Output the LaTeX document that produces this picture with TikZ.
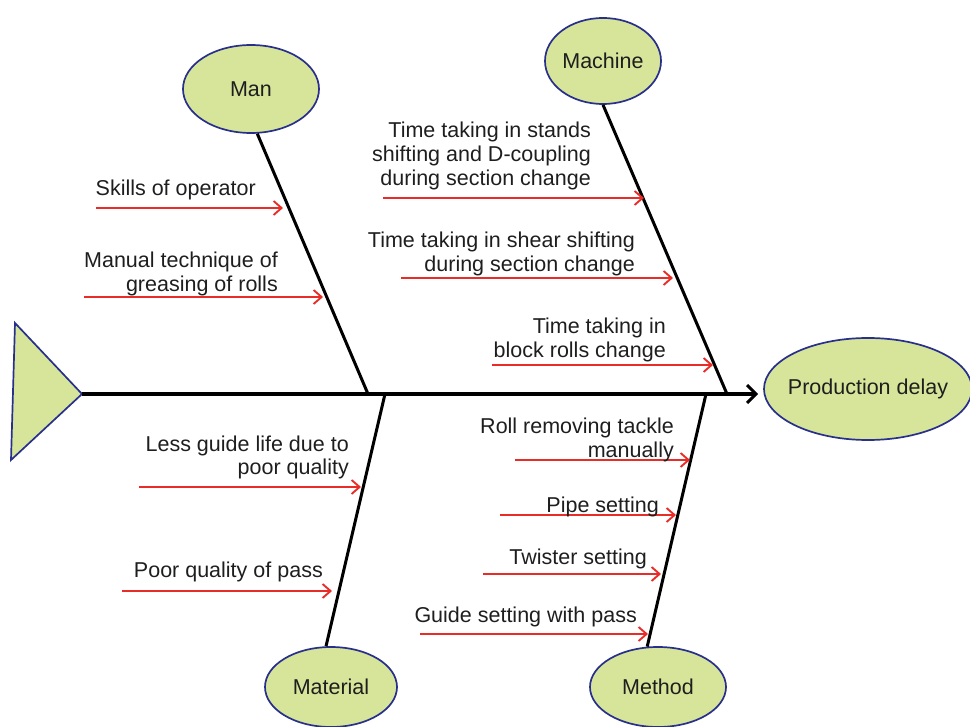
\documentclass[tikz,border=0pt]{standalone}
\usepackage{fontspec}
\setmainfont{Liberation Sans}
\usetikzlibrary{shapes.geometric,arrows.meta,calc}
\definecolor{fishfill}{RGB}{215,229,155}
\definecolor{fishedge}{RGB}{40,48,140}
\definecolor{causered}{RGB}{232,45,40}
\definecolor{inktext}{RGB}{30,30,30}
\begin{document}
\begin{tikzpicture}[x=1pt,y=-1pt,
  category/.style={ellipse, draw=fishedge, line width=1.7pt, fill=fishfill,
    inner sep=0pt, font=\fontsize{21.5}{24}\selectfont, text=inktext},
  bone/.style={line width=3pt, black},
  spine/.style={line width=3.5pt, black, line cap=butt,
    -{Straight Barb[length=9pt,width=18pt,line width=3pt]}, shorten >=5pt},
  cause/.style={draw=causered, line width=1.9pt,
    -{Straight Barb[length=8pt,width=14pt,line width=1.9pt]}},
  causetext/.style={anchor=base east, align=right, inner sep=0pt,
    font=\fontsize{21.5}{24}\selectfont, text=inktext},
]
\useasboundingbox (0,0) rectangle (970,727);

% category heads and the effect
\node[category, minimum width=136pt, minimum height=88pt] (man) at (251,89) {Man};
\node[category, minimum width=116pt, minimum height=86pt, inner xsep=-6pt] (machine) at (603,61) {Machine};
\node[category, minimum width=208pt, minimum height=102pt, inner xsep=-20pt] (delay) at (868,389) {Production delay};
\node[category, minimum width=132pt, minimum height=80pt] (material) at (331,687) {Material};
\node[category, minimum width=136pt, minimum height=80pt] (method) at (658,687) {Method};

% fish tail
\coordinate (tailtop) at (15,323);
\coordinate (tailtip) at (82,394);
\coordinate (tailbot) at (11,460);
\draw[fill=fishfill, draw=fishedge, line width=1.7pt, line join=miter]
  (tailtop) -- (tailtip) -- (tailbot) -- cycle;

% backbone
\draw[spine] (tailtip) -- (tailtip -| delay.west);

% junctions of the bones on the backbone
\coordinate (jman) at (368,394);
\coordinate (jmach) at (727,394);
\coordinate (jmat) at (385,394);
\coordinate (jmeth) at (706,394);

\draw[bone] (man.-82) -- (jman);
\draw[bone] (machine.south) -- (jmach);
\draw[bone] (material.97) -- (jmat);
\draw[bone] (method.105) -- (jmeth);

% Man causes (multi-line labels are placed by the baseline of their last line)
\coordinate (m1s) at (96,208);  \coordinate (m1e) at (283,208);
\coordinate (m2s) at (84,297);  \coordinate (m2e) at (323,297);
\draw[cause] (m1s) -- (m1e);
\draw[cause] (m2s) -- (m2e);
\node[causetext] (m1t) at (256,196) {Skills of operator};
\node[causetext] (m2t) at (278,292) {Manual technique of\\greasing of rolls};

% Machine causes
\coordinate (c1s) at (383,198); \coordinate (c1e) at (644,198);
\coordinate (c2s) at (401,278); \coordinate (c2e) at (673,278);
\coordinate (c3s) at (492,365); \coordinate (c3e) at (713,365);
\draw[cause] (c1s) -- (c1e);
\draw[cause] (c2s) -- (c2e);
\draw[cause] (c3s) -- (c3e);
\node[causetext] (c1t) at (591,186) {Time taking in stands\\shifting and D-coupling\\during section change};
\node[causetext] (c2t) at (635,272) {Time taking in shear shifting\\during section change};
\node[causetext] (c3t) at (666,358) {Time taking in\\block rolls change};

% Material causes
\coordinate (t1s) at (139,487); \coordinate (t1e) at (361,487);
\coordinate (t2s) at (122,591); \coordinate (t2e) at (332,591);
\draw[cause] (t1s) -- (t1e);
\draw[cause] (t2s) -- (t2e);
\node[causetext] (t1t) at (349,475) {Less guide life due to\\poor quality};
\node[causetext] (t2t) at (323,577) {Poor quality of pass};

% Method causes
\coordinate (h1s) at (515,460); \coordinate (h1e) at (690,460);
\coordinate (h2s) at (500,515); \coordinate (h2e) at (676,515);
\coordinate (h3s) at (483,574); \coordinate (h3e) at (661,574);
\coordinate (h4s) at (420,634); \coordinate (h4e) at (648,634);
\draw[cause] (h1s) -- (h1e);
\draw[cause] (h2s) -- (h2e);
\draw[cause] (h3s) -- (h3e);
\draw[cause] (h4s) -- (h4e);
\node[causetext] (h1t) at (674,457) {Roll removing tackle\\manually};
\node[causetext] (h2t) at (659,512) {Pipe setting};
\node[causetext] (h3t) at (647,564) {Twister setting};
\node[causetext] (h4t) at (637,622) {Guide setting with pass};
\end{tikzpicture}
\end{document}
